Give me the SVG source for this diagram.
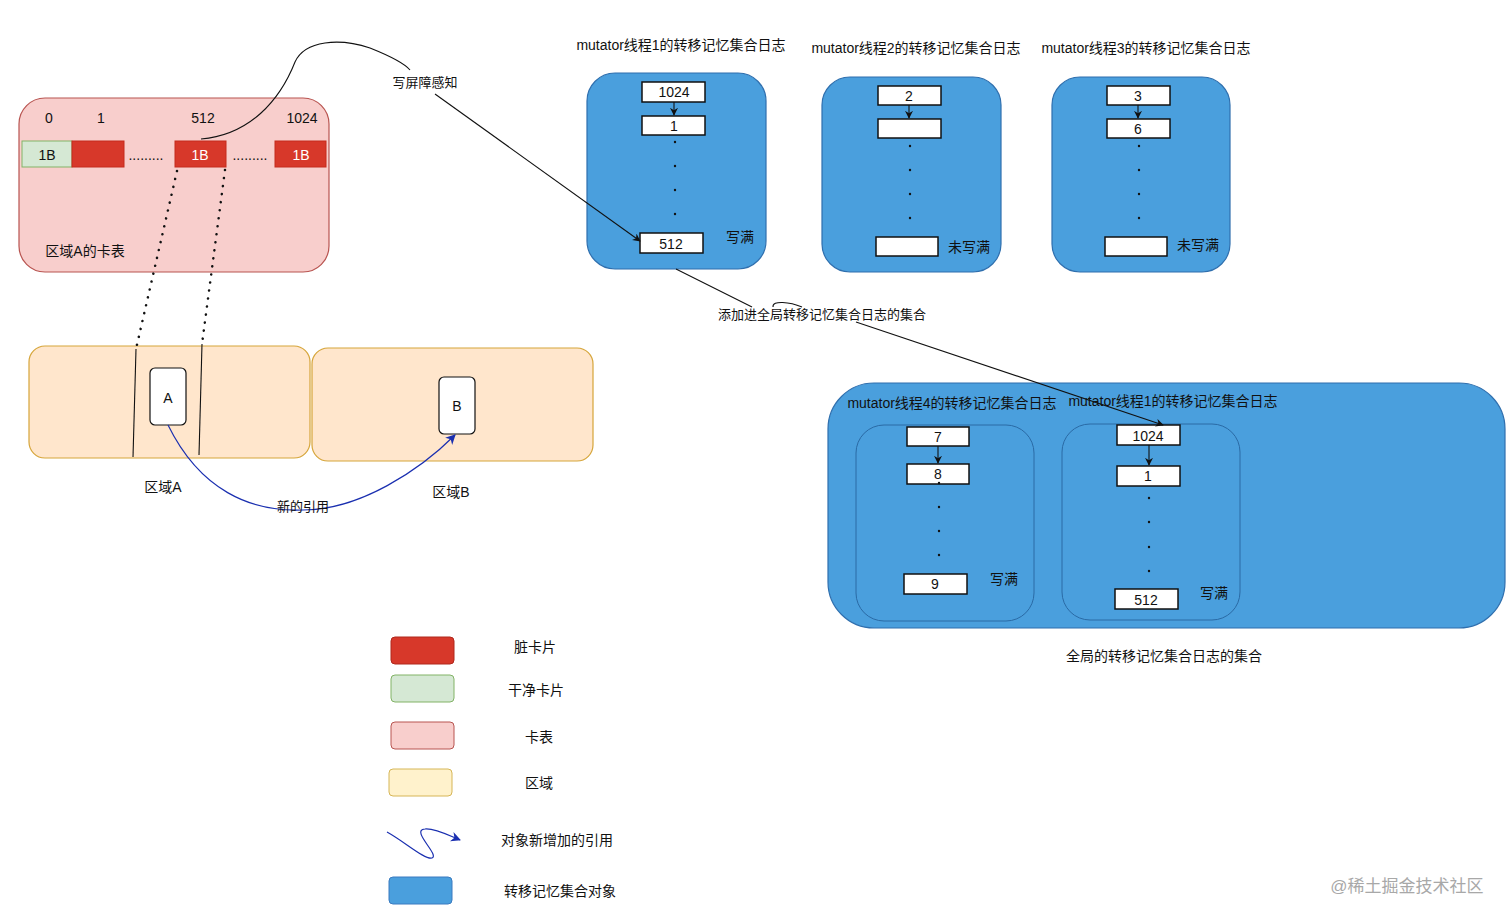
<svg xmlns="http://www.w3.org/2000/svg" width="1512" height="920" viewBox="0 0 1512 920">
<style>
text{font-family:"Liberation Sans","Noto Sans CJK SC",sans-serif;font-size:14px;fill:#111;text-anchor:middle;dominant-baseline:central}
.blue{fill:#4a9fdd;stroke:#2f6fae;stroke-width:1.2}
.inner{fill:#4a9fdd;stroke:#2a6aa5;stroke-width:1}
.cell{fill:#fff;stroke:#111;stroke-width:1.5}
.red{fill:#d7382a;stroke:#c42b1c;stroke-width:1}
.wt{fill:#fff}
.ln{fill:none;stroke:#111;stroke-width:1.1}
.dot{fill:none;stroke:#111;stroke-width:2.5;stroke-dasharray:0.1 8;stroke-linecap:round}
</style>
<defs>
<marker id="ah" viewBox="0 0 10 10" refX="9" refY="5" markerWidth="8" markerHeight="8" orient="auto-start-reverse" markerUnits="userSpaceOnUse"><path d="M0,0 L10,5 L0,10 L3,5 Z" fill="#111"/></marker>
<marker id="ab" viewBox="0 0 10 10" refX="9" refY="5" markerWidth="10" markerHeight="10" orient="auto" markerUnits="userSpaceOnUse"><path d="M0,0 L10,5 L0,10 L3,5 Z" fill="#1a2fb0"/></marker>
</defs>

<g id="cardtable">
<rect x="19" y="98" width="310" height="174" rx="26" fill="#f8cecc" stroke="#b85450" stroke-width="1.2"/>
<text x="49" y="118">0</text><text x="101" y="118">1</text><text x="203" y="118">512</text><text x="302" y="118">1024</text>
<rect x="22" y="141" width="50" height="26" fill="#d5e8d4" stroke="#82b366"/>
<text x="47" y="155">1B</text>
<rect x="72" y="141" width="52" height="26" class="red"/>
<text x="146" y="155">.........</text>
<rect x="175" y="141" width="51" height="26" class="red"/>
<text x="200" y="155" class="wt">1B</text>
<text x="250" y="155">.........</text>
<rect x="275" y="141" width="51" height="26" class="red"/>
<text x="301" y="155" class="wt">1B</text>
<text x="85" y="251">区域A的卡表</text>
</g>

<g id="regionA">
<rect x="29" y="346" width="281" height="112" rx="16" fill="#ffe6cc" stroke="#d6a53a" stroke-width="1.2"/>
<text x="163" y="487">区域A</text>
</g>
<g id="regionB">
<rect x="312" y="348" width="281" height="113" rx="16" fill="#ffe6cc" stroke="#d6a53a" stroke-width="1.2"/>
<text x="451" y="492">区域B</text>
</g>
<g id="objA">
<rect x="150" y="368" width="36" height="57" rx="5" fill="#fff" stroke="#111" stroke-width="1.2"/>
<text x="168" y="398">A</text>
</g>
<g id="objB">
<rect x="439" y="377" width="36" height="57" rx="5" fill="#fff" stroke="#111" stroke-width="1.2"/>
<text x="457" y="406">B</text>
</g>

<g id="log1">
<text x="681" y="45">mutator线程1的转移记忆集合日志</text>
<rect x="587" y="73" width="179" height="196" rx="28" class="blue"/>
<rect x="642" y="82" width="63" height="20" class="cell"/><text x="674" y="92">1024</text>
<rect x="642" y="116" width="63" height="19" class="cell"/><text x="674" y="126">1</text>
<g fill="#111"><circle cx="675" cy="142" r="1.2"/><circle cx="675" cy="166" r="1.2"/><circle cx="675" cy="190" r="1.2"/><circle cx="675" cy="214" r="1.2"/></g>
<rect x="640" y="233" width="63" height="20" class="cell"/><text x="671" y="244">512</text>
<text x="740" y="237">写满</text>
</g>

<g id="log2">
<text x="916" y="48">mutator线程2的转移记忆集合日志</text>
<rect x="822" y="77" width="179" height="195" rx="28" class="blue"/>
<rect x="878" y="86" width="63" height="19" class="cell"/><text x="909" y="96">2</text>
<rect x="878" y="119" width="63" height="19" class="cell"/>
<g fill="#111"><circle cx="910" cy="146" r="1.2"/><circle cx="910" cy="170" r="1.2"/><circle cx="910" cy="194" r="1.2"/><circle cx="910" cy="218" r="1.2"/></g>
<rect x="876" y="237" width="62" height="19" class="cell"/>
<text x="969" y="247">未写满</text>
</g>

<g id="log3">
<text x="1146" y="48">mutator线程3的转移记忆集合日志</text>
<rect x="1052" y="77" width="178" height="195" rx="28" class="blue"/>
<rect x="1107" y="86" width="63" height="19" class="cell"/><text x="1138" y="96">3</text>
<rect x="1107" y="119" width="63" height="19" class="cell"/><text x="1138" y="129">6</text>
<g fill="#111"><circle cx="1139" cy="146" r="1.2"/><circle cx="1139" cy="170" r="1.2"/><circle cx="1139" cy="194" r="1.2"/><circle cx="1139" cy="218" r="1.2"/></g>
<rect x="1105" y="237" width="62" height="19" class="cell"/>
<text x="1198" y="245">未写满</text>
</g>

<g id="global">
<rect x="828" y="383" width="677" height="245" rx="46" class="blue"/>
<text x="1164" y="656">全局的转移记忆集合日志的集合</text>
</g>
<g id="log4g">
<text x="952" y="403">mutator线程4的转移记忆集合日志</text>
<rect x="856" y="425" width="178" height="196" rx="28" class="inner"/>
<rect x="907" y="427" width="62" height="19" class="cell"/><text x="938" y="437">7</text>
<rect x="907" y="464" width="62" height="20" class="cell"/><text x="938" y="474">8</text>
<g fill="#111"><circle cx="939" cy="483" r="1.2"/><circle cx="939" cy="507" r="1.2"/><circle cx="939" cy="531" r="1.2"/><circle cx="939" cy="555" r="1.2"/></g>
<rect x="904" y="574" width="63" height="20" class="cell"/><text x="935" y="584">9</text>
<text x="1004" y="579">写满</text>
</g>
<g id="log1g">
<text x="1173" y="401">mutator线程1的转移记忆集合日志</text>
<rect x="1062" y="424" width="178" height="196" rx="28" class="inner"/>
<rect x="1117" y="425" width="63" height="20" class="cell"/><text x="1148" y="436">1024</text>
<rect x="1117" y="466" width="63" height="20" class="cell"/><text x="1148" y="476">1</text>
<g fill="#111"><circle cx="1149" cy="498" r="1.2"/><circle cx="1149" cy="522" r="1.2"/><circle cx="1149" cy="547" r="1.2"/><circle cx="1149" cy="571" r="1.2"/></g>
<rect x="1115" y="589" width="63" height="20" class="cell"/><text x="1146" y="600">512</text>
<text x="1214" y="593">写满</text>
</g>

<g id="connectors">
<path class="dot" d="M177,171 L136,349"/>
<path class="dot" d="M225,170 L202,344"/>
<path class="ln" d="M136,349 L133,457"/>
<path class="ln" d="M202,344 L199,455"/>
<path d="M168,425 C200,490 250,512 303,510 C360,510 420,470 455,435" fill="none" stroke="#1a2fb0" stroke-width="1.2" marker-end="url(#ab)"/>
<path class="ln" d="M201,139 C250,135 280,100 295,62 C305,40 340,38 370,48 C390,56 405,64 410,70"/>
<path class="ln" d="M435,94 L640,241" marker-end="url(#ah)"/>
<path class="ln" d="M674,102 L674,115" marker-end="url(#ah)"/>
<path class="ln" d="M909,105 L909,118" marker-end="url(#ah)"/>
<path class="ln" d="M1138,105 L1138,118" marker-end="url(#ah)"/>
<path class="ln" d="M938,446 L938,463" marker-end="url(#ah)"/>
<path class="ln" d="M1149,445 L1149,465" marker-end="url(#ah)"/>
<path class="ln" d="M676,269 L752,307"/>
<path class="ln" d="M773,307 C772,300 790,302 802,307"/>
<path class="ln" d="M856,322 L1163,425" marker-end="url(#ah)"/>
<rect x="392" y="74" width="66" height="16" fill="#fff"/>
<text x="425" y="82" style="font-size:13px">写屏障感知</text>
<text x="822" y="314" style="font-size:13px">添加进全局转移记忆集合日志的集合</text>
<text x="303" y="506" style="font-size:13px">新的引用</text>
</g>

<g id="legend">
<rect x="391" y="637" width="63" height="27" rx="4" fill="#d7382a" stroke="#b0281c"/>
<text x="535" y="647">脏卡片</text>
<rect x="391" y="675" width="63" height="27" rx="4" fill="#d5e8d4" stroke="#82b366"/>
<text x="536" y="690">干净卡片</text>
<rect x="391" y="722" width="63" height="27" rx="4" fill="#f8cecc" stroke="#b85450"/>
<text x="539" y="737">卡表</text>
<rect x="389" y="769" width="63" height="27" rx="4" fill="#fff2cc" stroke="#d6b656"/>
<text x="539" y="783">区域</text>
<path d="M387,832 C405,842 425,860 432,858 C440,855 410,830 425,829 C435,828 450,836 460,840" fill="none" stroke="#1a2fb0" stroke-width="1.2" marker-end="url(#ab)"/>
<text x="557" y="840">对象新增加的引用</text>
<rect x="389" y="877" width="63" height="27" rx="4" fill="#4a9fdd" stroke="#3a7bc0"/>
<text x="560" y="891">转移记忆集合对象</text>
</g>

<text x="1407" y="886" style="font-size:17px;fill:#a8a8a8">@稀土掘金技术社区</text>
</svg>
